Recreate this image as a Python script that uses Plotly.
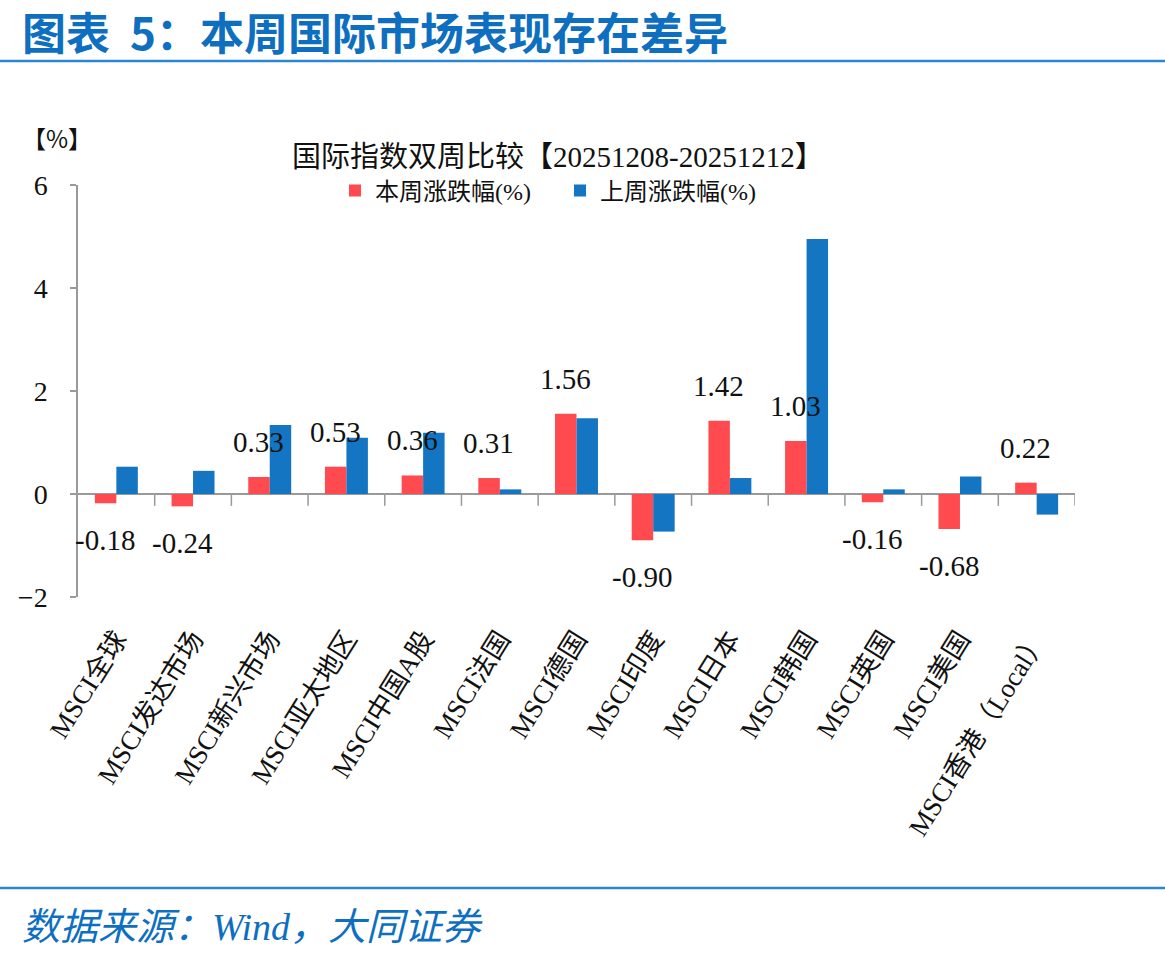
import plotly.graph_objects as go

# ---------------- data ----------------
categories = ["MSCI全球", "MSCI发达市场", "MSCI新兴市场", "MSCI亚太地区", "MSCI中国A股",
              "MSCI法国", "MSCI德国", "MSCI印度", "MSCI日本", "MSCI韩国",
              "MSCI英国", "MSCI美国", "MSCI香港（Local）"]
this_week = [-0.18, -0.24, 0.33, 0.53, 0.36, 0.31, 1.56, -0.90, 1.42, 1.03, -0.16, -0.68, 0.22]
last_week = [0.53, 0.45, 1.34, 1.09, 1.19, 0.09, 1.47, -0.73, 0.31, 4.95, 0.09, 0.34, -0.40]
series_names = ["本周涨跌幅(%)", "上周涨跌幅(%)"]
y_ticks = [-2, 0, 2, 4, 6]

main_title = "图表&nbsp;&nbsp;5：本周国际市场表现存在差异"
chart_title = "国际指数双周比较【20251208-20251212】"
unit_label = "【%】"
source_text = "数据来源：Wind，大同证券"

# ---------------- layout constants ----------------
W, H = 1165, 959
ML, MR, MT, MB = 78, 90, 185, 362
PW = W - ML - MR
PH = H - MT - MB

def px_x(px):
    return (px - ML) / PW

def px_y(py):
    return (H - MB - py) / PH

RED = "#FF4A50"
BLUE = "#1475C2"
AXIS = "#9A9A9A"
TITLE_BLUE = "#0E6FC0"
BASE_FONT = "Liberation Serif, Noto Sans CJK SC, serif"
CJK_FONT = "Noto Sans CJK SC, sans-serif"

fig = go.Figure()
fig.add_trace(go.Bar(x=categories, y=this_week, name=series_names[0],
                     marker=dict(color=RED, line=dict(width=0))))
fig.add_trace(go.Bar(x=categories, y=last_week, name=series_names[1],
                     marker=dict(color=BLUE, line=dict(width=0))))

annotations = []
# value labels for this week's bars
for c, v in zip(categories, this_week):
    annotations.append(dict(
        x=c, y=v, xref="x", yref="y", text=f"{v:.2f}", showarrow=False,
        xshift=-11, yshift=35 if v >= 0 else -37,
        font=dict(family=BASE_FONT, size=29, color="#111111"),
        xanchor="center", yanchor="middle"))

# page title
annotations.append(dict(
    x=px_x(20), y=px_y(31), xref="paper", yref="paper", text=f"<b>{main_title}</b>",
    showarrow=False, xanchor="left", yanchor="middle",
    font=dict(family=CJK_FONT, size=44, color=TITLE_BLUE)))
# chart title
annotations.append(dict(
    x=px_x(558), y=px_y(157), xref="paper", yref="paper", text=chart_title,
    showarrow=False, xanchor="center", yanchor="middle",
    font=dict(family=BASE_FONT, size=29, color="#111111")))
# unit label
annotations.append(dict(
    x=px_x(57), y=px_y(138), xref="paper", yref="paper", text=unit_label,
    showarrow=False, xanchor="center", yanchor="middle",
    font=dict(family=CJK_FONT, size=24, color="#111111")))
# source
annotations.append(dict(
    x=px_x(20), y=px_y(927), xref="paper", yref="paper", text=f"<i>{source_text}</i>",
    showarrow=False, xanchor="left", yanchor="middle",
    font=dict(family=BASE_FONT, size=38, color=TITLE_BLUE)))

shapes = []
# header / footer rules
for py in (61, 888):
    shapes.append(dict(type="line", xref="paper", yref="paper",
                       x0=px_x(0), x1=px_x(W), y0=px_y(py), y1=px_y(py),
                       line=dict(color="#2A86D4", width=2.5)))
# category boundary ticks on the zero line
for i in range(1, len(categories) + 1):
    shapes.append(dict(type="line", xref="x", yref="y",
                       x0=i - 0.5, x1=i - 0.5, y0=0, y1=-0.23,
                       line=dict(color=AXIS, width=1.5)))

fig.update_layout(
    width=W, height=H,
    margin=dict(l=ML, r=MR, t=MT, b=MB, pad=0),
    paper_bgcolor="white", plot_bgcolor="white",
    barmode="group", bargap=0.44, bargroupgap=0,
    font=dict(family=BASE_FONT, color="#111111"),
    showlegend=True,
    legend=dict(orientation="h", x=px_x(335), y=px_y(191), xanchor="left", yanchor="middle",
                font=dict(family=BASE_FONT, size=24, color="#111111"),
                bgcolor="rgba(0,0,0,0)", entrywidth=180, entrywidthmode="pixels",
                itemclick=False),
    annotations=annotations,
    shapes=shapes,
)
fig.update_xaxes(
    type="category", showgrid=False, showline=False, zeroline=False,
    ticks="", tickangle=-58, ticklabelstandoff=20,
    tickfont=dict(family=BASE_FONT, size=27, color="#111111"),
    range=[-0.5, len(categories) - 0.5])
fig.update_yaxes(
    range=[-2, 6], tickvals=y_ticks, showgrid=False,
    showline=True, linecolor=AXIS, linewidth=1.5,
    ticks="outside", ticklen=6, tickcolor=AXIS, tickwidth=1.5,
    zeroline=True, zerolinecolor=AXIS, zerolinewidth=2,
    ticklabelstandoff=17,
    tickfont=dict(family=BASE_FONT, size=28, color="#111111"))

fig.write_html("out.html")
